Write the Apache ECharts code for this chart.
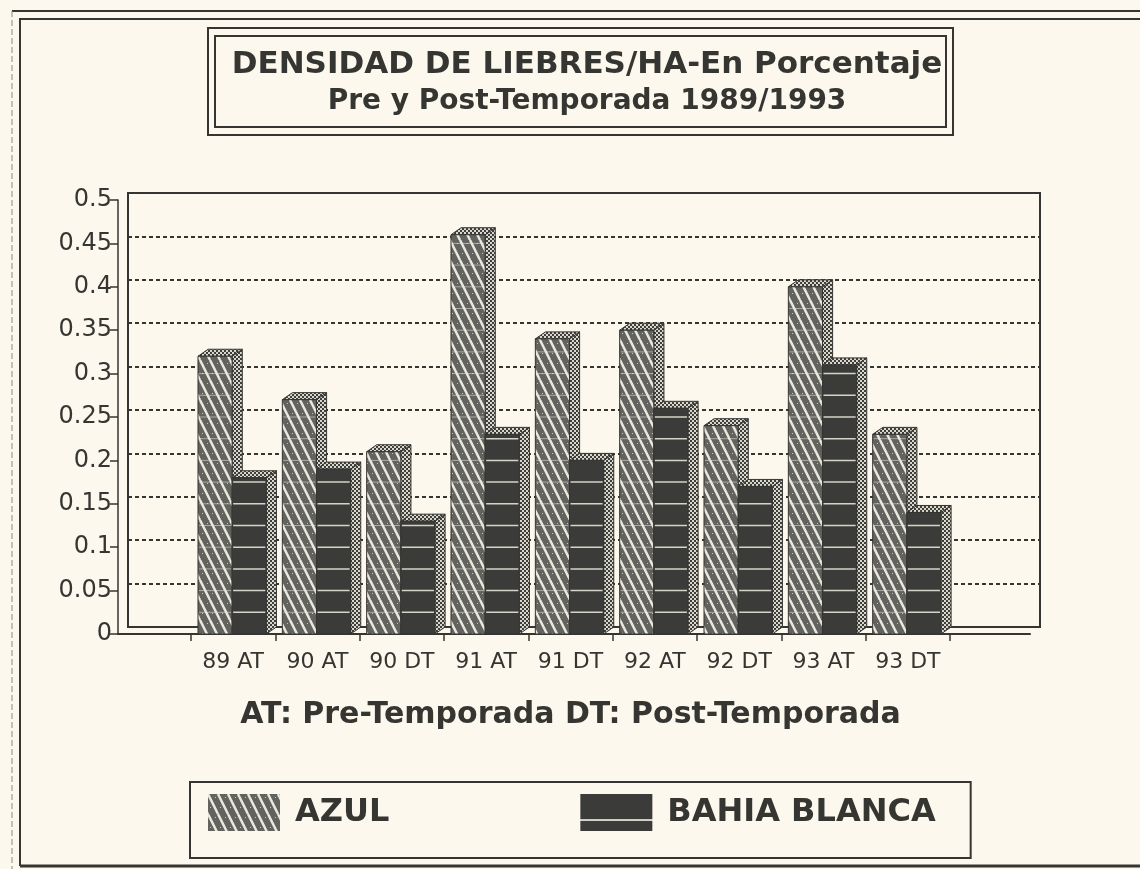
<!DOCTYPE html>
<html>
<head>
<meta charset="utf-8">
<script src="https://cdn.jsdelivr.net/npm/echarts@6/dist/echarts.min.js"></script>
<style>
  html, body { margin: 0; padding: 0; background: #fdf8ee; }
  #chart { width: 1140px; height: 869px; }
</style>
</head>
<body>
<div id="chart"></div>
<script>
// categorías (AT = pre-temporada, DT = post-temporada)
const categories = ['89 AT', '90 AT', '90 DT', '91 AT', '91 DT', '92 AT', '92 DT', '93 AT', '93 DT'];
const azul = [0.32, 0.27, 0.21, 0.46, 0.34, 0.35, 0.24, 0.40, 0.23];
const bahiaBlanca = [0.18, 0.19, 0.13, 0.23, 0.20, 0.26, 0.17, 0.31, 0.14];
const seriesNames = ['AZUL', 'BAHIA BLANCA'];
const yMin = 0, yMax = 0.5, yStep = 0.05;

const INK = '#353532';
const PAPER = '#fdf8ee';
const FONT = '"DejaVu Sans", sans-serif';

// texturas tipo trama de impresora
function makePattern(w, h, draw) {
  const c = document.createElement('canvas');
  c.width = w; c.height = h;
  draw(c.getContext('2d'), w, h);
  return { image: c, repeat: 'repeat' };
}

const hatch = makePattern(10, 20, (g, w, h) => {
  g.fillStyle = '#62625e';
  g.fillRect(0, 0, w, h);
  g.strokeStyle = '#ebe8de';
  g.lineWidth = 2.5;
  for (let x = -10; x <= 10; x += 10) {
    g.beginPath();
    g.moveTo(x, 0);
    g.lineTo(x + 10, 20);
    g.stroke();
  }
  // puntos de trama
  g.fillStyle = '#c9c6bc';
  g.fillRect(7, 3, 1, 1);
  g.fillRect(2, 13, 1, 1);
});

const checker = makePattern(4, 4, (g) => {
  g.fillStyle = '#3e3e3b';
  g.fillRect(0, 0, 4, 4);
  g.fillStyle = '#d9d6cc';
  g.fillRect(0, 0, 2, 2);
  g.fillRect(2, 2, 2, 2);
});

const darkFill = '#3b3c39';

const legendDark = makePattern(72, 37, (g, w, h) => {
  g.fillStyle = darkFill;
  g.fillRect(0, 0, w, h);
  g.fillStyle = '#d6d3c9';
  g.fillRect(0, 25, w, 2);
});

// barra 3D: cara frontal, lateral y tapa
function bar3d(slot, frontFill, lineColor, lineWidth) {
  return function (params, api) {
    const idx = api.value(0);
    const val = api.value(1);
    const base = api.coord([idx, 0]);
    const top = api.coord([idx, val]);
    const band = api.size([1, 0])[0];
    const fw = band * 0.405;
    const dx = band * 0.12;
    const dy = 7;
    const x0 = base[0] - band * 0.5 + band * 0.083 + slot * fw;
    const x1 = x0 + fw;
    const children = [
      {
        type: 'polygon',
        shape: { points: [[x1, top[1]], [x1 + dx, top[1] - dy], [x1 + dx, base[1] - dy], [x1, base[1]]] },
        style: { fill: checker, stroke: INK, lineWidth: 1 }
      },
      {
        type: 'polygon',
        shape: { points: [[x0, top[1]], [x0 + dx, top[1] - dy], [x1 + dx, top[1] - dy], [x1, top[1]]] },
        style: { fill: checker, stroke: INK, lineWidth: 1 }
      },
      {
        type: 'rect',
        shape: { x: x0, y: top[1], width: fw, height: base[1] - top[1] },
        style: { fill: frontFill, stroke: INK, lineWidth: 1 }
      }
    ];
    // líneas claras cada 0.025 sobre la cara frontal
    for (let k = 1; k * 0.025 < val - 0.004; k++) {
      const y = api.coord([idx, k * 0.025])[1];
      children.push({
        type: 'line',
        shape: { x1: x0 + 1, y1: y, x2: x1 - 1, y2: y },
        style: { stroke: lineColor, lineWidth: lineWidth }
      });
    }
    return { type: 'group', children: children };
  };
}

const chart = echarts.init(document.getElementById('chart'));

const option = {
  backgroundColor: PAPER,
  animation: false,
  textStyle: { fontFamily: FONT, color: INK },
  title: {
    text: 'DENSIDAD DE LIEBRES/HA-En Porcentaje',
    subtext: 'Pre y Post-Temporada 1989/1993',
    left: 582,
    textAlign: 'center',
    top: 44,
    itemGap: 8,
    textStyle: { fontFamily: FONT, fontWeight: 'bold', fontSize: 31, color: INK },
    subtextStyle: { fontFamily: FONT, fontWeight: 'bold', fontSize: 28, color: INK }
  },
  legend: {
    data: [
      { name: seriesNames[0], itemStyle: { color: hatch } },
      { name: seriesNames[1], itemStyle: { color: legendDark } }
    ],
    left: 190,
    top: 782,
    orient: 'horizontal',
    icon: 'rect',
    itemWidth: 72,
    itemHeight: 37,
    itemGap: 191,
    padding: [12, 35, 27, 18],
    borderColor: INK,
    borderWidth: 2,
    borderRadius: 0,
    selectedMode: false,
    textStyle: { fontFamily: FONT, fontWeight: 'bold', fontSize: 32, color: INK, padding: [0, 0, 0, 10] }
  },
  grid: [
    // eje frontal
    { left: 118, right: 110, top: 200, bottom: 235 },
    // pared de fondo
    { left: 128, right: 100, top: 193, bottom: 242, show: true, borderColor: INK, borderWidth: 2, backgroundColor: 'transparent' },
    // barras
    { left: 191, right: 190, top: 200, bottom: 235 }
  ],
  xAxis: [
    {
      gridIndex: 0, type: 'value', min: 0, max: 1,
      axisLine: { show: true, lineStyle: { color: INK, width: 2 } },
      axisTick: { show: false }, axisLabel: { show: false }, splitLine: { show: false }
    },
    {
      gridIndex: 1, type: 'value', min: 0, max: 1, show: false
    },
    {
      gridIndex: 2, type: 'category', data: categories,
      axisLine: { show: false },
      axisTick: { show: true, length: 7, lineStyle: { color: INK, width: 1.5 } },
      axisLabel: { interval: 0, fontFamily: FONT, fontSize: 22, color: INK, margin: 17 },
      splitLine: { show: false },
      name: 'AT: Pre-Temporada DT: Post-Temporada',
      nameLocation: 'middle',
      nameGap: 66,
      nameTextStyle: { fontFamily: FONT, fontWeight: 'bold', fontSize: 30, color: INK }
    }
  ],
  yAxis: [
    {
      gridIndex: 0, type: 'value', min: yMin, max: yMax, interval: yStep,
      axisLine: { show: true, lineStyle: { color: INK, width: 1.5 } },
      axisTick: { show: true, inside: false, length: 8, lineStyle: { color: INK, width: 1.5 } },
      axisLabel: { fontFamily: FONT, fontSize: 24, color: INK, margin: 6 },
      splitLine: { show: false }
    },
    {
      gridIndex: 1, type: 'value', min: yMin, max: yMax, interval: yStep,
      axisLine: { show: false }, axisTick: { show: false }, axisLabel: { show: false },
      splitLine: { show: true, lineStyle: { color: INK, width: 2, type: [4, 3] } }
    },
    {
      gridIndex: 2, type: 'value', min: yMin, max: yMax, interval: yStep, show: false
    }
  ],
  series: [
    {
      name: seriesNames[0],
      type: 'custom',
      xAxisIndex: 2, yAxisIndex: 2,
      itemStyle: { color: hatch },
      renderItem: bar3d(0, hatch, 'rgba(235,232,222,0.55)', 1),
      encode: { x: 0, y: 1 },
      data: azul.map((v, i) => [i, v])
    },
    {
      name: seriesNames[1],
      type: 'custom',
      xAxisIndex: 2, yAxisIndex: 2,
      itemStyle: { color: darkFill },
      renderItem: bar3d(1, darkFill, '#d6d3c9', 1.5),
      encode: { x: 0, y: 1 },
      data: bahiaBlanca.map((v, i) => [i, v])
    }
  ],
  graphic: [
    // marco exterior de la hoja
    { type: 'line', shape: { x1: 12, y1: 11, x2: 1140, y2: 11 }, style: { stroke: INK, lineWidth: 2 } },
    { type: 'line', shape: { x1: 19, y1: 19, x2: 1140, y2: 19 }, style: { stroke: INK, lineWidth: 2 } },
    { type: 'line', shape: { x1: 12, y1: 11, x2: 12, y2: 869 }, style: { stroke: '#8a8882', lineWidth: 1, lineDash: [6, 3] } },
    { type: 'line', shape: { x1: 20, y1: 19, x2: 20, y2: 866 }, style: { stroke: INK, lineWidth: 2 } },
    { type: 'line', shape: { x1: 20, y1: 866, x2: 1140, y2: 866 }, style: { stroke: INK, lineWidth: 3 } },
    // recuadro doble del título
    { type: 'rect', shape: { x: 208, y: 28, width: 745, height: 107 }, style: { fill: 'none', stroke: INK, lineWidth: 2 } },
    { type: 'rect', shape: { x: 215, y: 36, width: 731, height: 91 }, style: { fill: 'none', stroke: INK, lineWidth: 2 } }
  ]
};

chart.setOption(option);
</script>
</body>
</html>
